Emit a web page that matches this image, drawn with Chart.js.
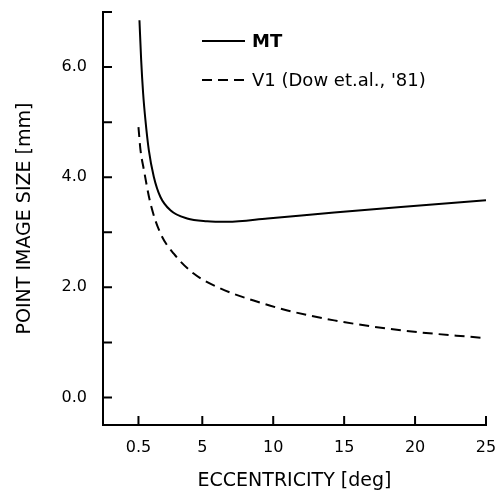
<!DOCTYPE html>
<html>
<head>
<meta charset="utf-8">
<script src="https://cdn.jsdelivr.net/npm/chart.js@4"></script>
<style>
  html, body { margin: 0; padding: 0; background: #fff; }
  #wrap { width: 496px; height: 495px; }
</style>
</head>
<body>
<div id="wrap"><canvas id="chart"></canvas></div>
<script>
// data
const mtX = [0.57, 0.69, 0.83, 0.99, 1.23, 1.58, 2.05, 2.75, 3.93, 5.34, 6.75, 9.6, 14.3, 19.0, 25.0];
const mtY = [6.85, 6.13, 5.52, 5.04, 4.49, 4.01, 3.64, 3.40, 3.25, 3.20, 3.19, 3.25, 3.36, 3.46, 3.58];
const v1X = [0.5, 0.64, 0.87, 1.35, 2.05, 2.99, 4.39, 6.27, 8.62, 11.0, 14.3, 19.0, 24.8];
const v1Y = [4.91, 4.5, 4.15, 3.52, 2.98, 2.61, 2.25, 1.98, 1.76, 1.58, 1.40, 1.22, 1.08];
const seriesLabels = ["MT", "V1 (Dow et.al., '81)"];
const xTicks = [0.5, 5, 10, 15, 20, 25];
const yTicks = [0, 1, 2, 3, 4, 5, 6, 7];
const yLabeled = [0, 2, 4, 6];

const FONT = "'DejaVu Sans', sans-serif";

function pts(xs, ys) { return xs.map((x, i) => ({x: x, y: ys[i]})); }

// tick marks point inward, like the original
const innerTicks = {
  id: 'innerTicks',
  afterDraw(chart) {
    const ctx = chart.ctx, xs = chart.scales.x, ys = chart.scales.y;
    const len = 9;
    ctx.save();
    ctx.strokeStyle = '#000';
    ctx.lineWidth = 2;
    ctx.beginPath();
    xs.ticks.forEach(t => {
      const px = xs.getPixelForValue(t.value);
      ctx.moveTo(px, xs.top); ctx.lineTo(px, xs.top - len);
    });
    ys.ticks.forEach(t => {
      const py = ys.getPixelForValue(t.value);
      ctx.moveTo(ys.right, py); ctx.lineTo(ys.right + len, py);
    });
    ctx.stroke();
    ctx.restore();
  }
};

// legend inside the plot, top
const insideLegend = {
  id: 'insideLegend',
  afterDraw(chart) {
    const ctx = chart.ctx;
    const x0 = 202, x1 = 245, rows = [41, 80];
    ctx.save();
    chart.data.datasets.forEach((ds, i) => {
      const y = rows[i];
      ctx.strokeStyle = ds.borderColor;
      ctx.lineWidth = 2;
      ctx.setLineDash(ds.borderDash || []);
      ctx.beginPath();
      ctx.moveTo(x0, y); ctx.lineTo(x1, y);
      ctx.stroke();
      ctx.setLineDash([]);
      ctx.fillStyle = '#000';
      ctx.font = (i === 0 ? '600 ' : '') + '18px ' + FONT;
      ctx.textBaseline = 'middle';
      ctx.fillText(ds.label, x1 + 7, y + 1);
    });
    ctx.restore();
  }
};

new Chart(document.getElementById('chart'), {
  type: 'line',
  data: {
    datasets: [
      {
        label: seriesLabels[0],
        data: pts(mtX, mtY),
        borderColor: '#000',
        borderWidth: 2,
        pointRadius: 0,
        cubicInterpolationMode: 'monotone',
        fill: false
      },
      {
        label: seriesLabels[1],
        data: pts(v1X, v1Y),
        borderColor: '#000',
        borderWidth: 2,
        borderDash: [10, 6],
        pointRadius: 0,
        cubicInterpolationMode: 'monotone',
        fill: false
      }
    ]
  },
  options: {
    responsive: true,
    maintainAspectRatio: false,
    animation: false,
    layout: { padding: { left: 0, top: 12, right: 10, bottom: 0 } },
    plugins: { legend: { display: false }, tooltip: { enabled: false } },
    scales: {
      x: {
        type: 'linear',
        min: -2,
        max: 25,
        afterBuildTicks: s => { s.ticks = xTicks.map(v => ({value: v})); },
        afterFit: s => { s.height = 70; s.paddingLeft = 0; s.paddingRight = 0; },
        grid: { display: true, drawOnChartArea: false, drawTicks: false },
        border: { display: true, color: '#000', width: 2 },
        ticks: {
          color: '#000',
          font: { family: FONT, size: 16 },
          padding: 13,
          maxRotation: 0,
          autoSkip: false,
          callback: v => String(v)
        },
        title: {
          display: true,
          text: 'ECCENTRICITY [deg]',
          color: '#000',
          font: { family: FONT, size: 19 },
          padding: { top: 0, bottom: 3 }
        }
      },
      y: {
        type: 'linear',
        min: -0.5,
        max: 7,
        afterBuildTicks: s => { s.ticks = yTicks.map(v => ({value: v})); },
        afterFit: s => { s.width = 103; s.paddingTop = 0; s.paddingBottom = 0; },
        grid: { display: true, drawOnChartArea: false, drawTicks: false },
        border: { display: true, color: '#000', width: 2 },
        ticks: {
          color: '#000',
          font: { family: FONT, size: 16 },
          padding: 16,
          autoSkip: false,
          callback: v => yLabeled.includes(v) ? v.toFixed(1) : ''
        },
        title: {
          display: true,
          text: 'POINT IMAGE SIZE [mm]',
          color: '#000',
          font: { family: FONT, size: 19 },
          padding: { top: 14, bottom: 0 }
        }
      }
    }
  },
  plugins: [innerTicks, insideLegend]
});
</script>
</body>
</html>
